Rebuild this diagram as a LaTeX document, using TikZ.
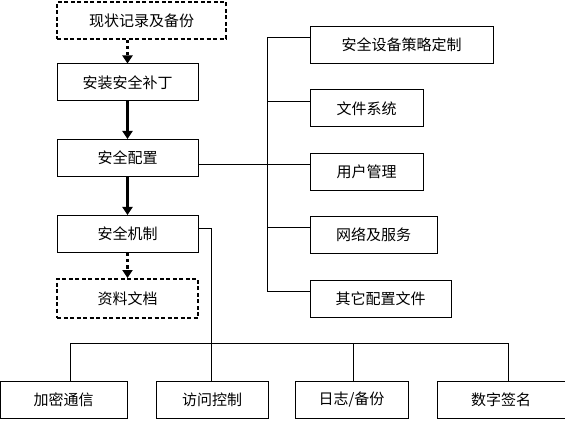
\documentclass[tikz,border=0pt]{standalone}
\usepackage{fontspec}
\setmainfont{Noto Sans CJK SC}
\usetikzlibrary{arrows.meta}
\tikzset{
  box/.style={draw, line width=1pt, minimum height=37pt, inner sep=0pt,
    font=\fontsize{15}{18}\selectfont},
  dashbox/.style={box, line width=2pt, dash pattern=on 4pt off 2.5pt},
  flow/.style={line width=2.2pt, -{Triangle[width=10pt,length=8pt]}},
  dashflow/.style={flow, line width=2.6pt, dash pattern=on 3.5pt off 2.5pt},
  link/.style={line width=1pt}
}
\begin{document}
\begin{tikzpicture}[x=1pt,y=-1pt]
    \useasboundingbox (0,0) rectangle (565,422);

    % Colonna di sinistra
    \node[dashbox, minimum width=169pt] (rec) at (141.5,20.5) {现状记录及备份};
    \node[box, minimum width=141pt] (patch) at (127.5,82.5) {安装安全补丁};
    \node[box, minimum width=141pt] (config) at (127.5,158) {安全配置};
    \node[box, minimum width=141pt] (mech) at (127.5,234) {安全机制};
    \node[dashbox, minimum width=141pt, minimum height=39pt] (doc) at (127.5,298.5) {资料文档};

    % Colonna di destra
    \node[box, minimum width=183pt] (policy) at (401.5,45) {安全设备策略定制};
    \node[box, minimum width=113pt] (fs) at (366.5,108.5) {文件系统};
    \node[box, minimum width=113pt] (user) at (366.5,172) {用户管理};
    \node[box, minimum width=127pt] (net) at (373.5,235) {网络及服务};
    \node[box, minimum width=141pt] (other) at (380.5,298.5) {其它配置文件};

    % Riga in basso
    \node[box, minimum width=127pt] (enc) at (63.5,399.5) {加密通信};
    \node[box, minimum width=112pt] (acc) at (212,399.5) {访问控制};
    \node[box, minimum width=113pt] (log) at (351.5,399.5) {日志/备份};
    \node[box, minimum width=128pt] (sig) at (501,399.5) {数字签名};

    % Frecce della sequenza
    \draw[dashflow] (patch.north |- rec.south) -- (patch.north);
    \draw[flow] (patch) -- (config);
    \draw[flow] (config) -- (mech);
    \draw[dashflow] (mech) -- (doc);

    % Bus verticale a destra
    \coordinate (ub) at ([yshift=7pt]user.west);
    \draw[link] ([yshift=7pt]policy.west) -- ++(-42,0) |- ([yshift=7pt]other.west);
    \foreach \n in {fs,user,net}
        \draw[link] ([yshift=7pt]\n.west) -- ++(-42,0);
    \draw[link] (config.east |- ub) -- (ub);

    % Bus orizzontale in basso
    \coordinate (bbus) at (0,343);
    \draw[link] ([yshift=5pt]mech.east) -| ([xshift=-1pt]acc.north);
    \draw[link] ([xshift=7pt]enc.north) -- ([xshift=7pt]enc.north |- bbus)
        -- ([xshift=7pt]sig.north |- bbus) -- ([xshift=7pt]sig.north);
    \draw[link] ([xshift=2pt]log.north) -- ([xshift=2pt]log.north |- bbus);
\end{tikzpicture}
\end{document}
